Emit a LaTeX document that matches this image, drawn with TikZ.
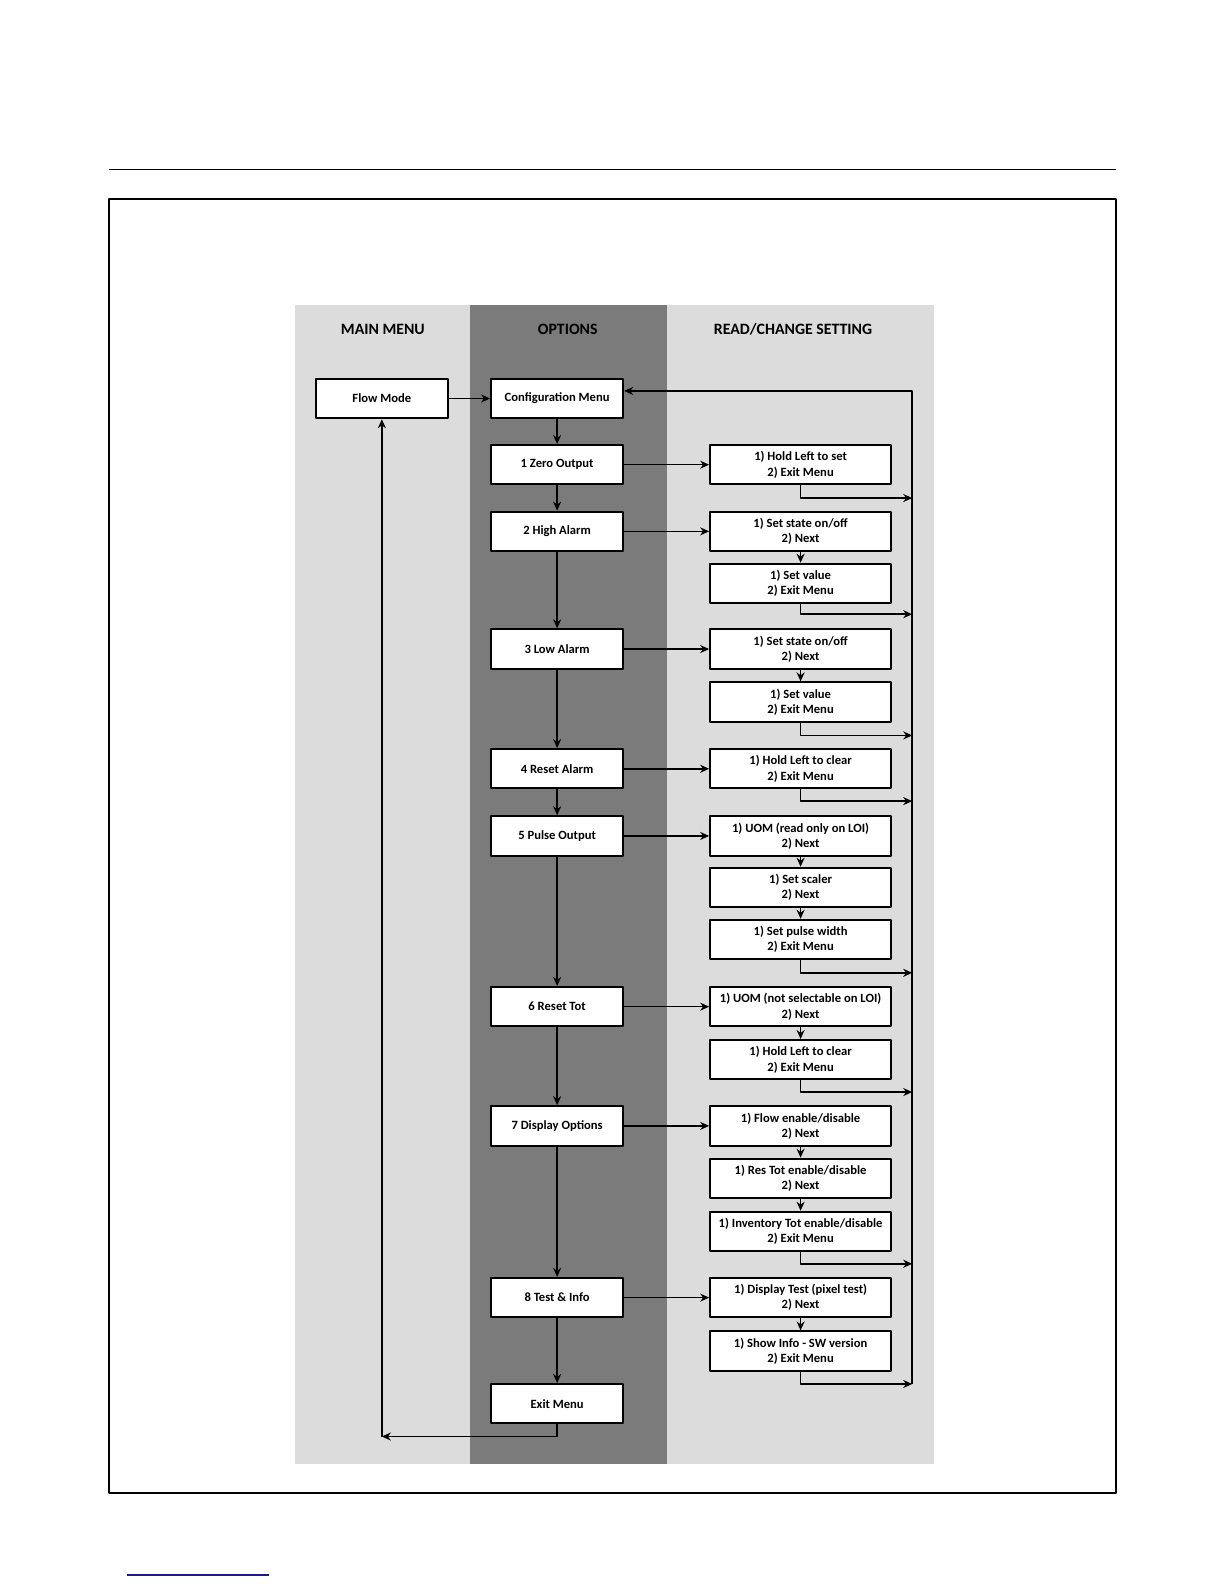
\documentclass[tikz,border=0pt]{standalone}
\usepackage{fontspec}
\setmainfont{Carlito}
\usetikzlibrary{arrows.meta}
\definecolor{panellight}{HTML}{DCDCDC}
\definecolor{paneldark}{HTML}{7B7B7B}
\definecolor{linkblue}{HTML}{1A1A8C}
\tikzset{
  every picture/.style={line join=round, >={Stealth[length=4.5pt,width=4pt]}},
  optbox/.style={draw, line width=1pt, fill=white, minimum width=66pt, minimum height=19.7pt, inner sep=1pt, align=center, font=\fontsize{6.3}{7.6}\selectfont\bfseries},
  setbox/.style={optbox, minimum width=90.4pt},
  colhead/.style={font=\fontsize{7.9}{9}\selectfont\bfseries},
  link/.style={->, line width=0.75pt},
}

\begin{document}
\begin{tikzpicture}[x=0.50495pt,y=-0.50495pt]
\useasboundingbox (0,0) rectangle (1212,1568);
% page rule, frame and footnote line
\draw[line width=0.7pt] (108,168)--(1105,168);
\draw[line width=1.2pt] (108,197) rectangle (1105,1478);
\draw[linkblue,line width=0.6pt] (126,1559)--(266,1559);
% panels
\fill[panellight] (292,302) rectangle (925,1449);
\fill[paneldark] (465,302) rectangle (660,1449);
\node[colhead] (hmain) at (379,326) {MAIN MENU};
\node[colhead] (hopt) at (562,326) {OPTIONS};
\node[colhead] (hset) at (785,326) {READ/CHANGE SETTING};
% main menu
\node[optbox] (flow) at (378,394.5) {Flow Mode};
% options column
\node[optbox] (cfg) at (551.5,394.5) {Configuration Menu};
\node[optbox] (zero) at (551.5,460) {1 Zero Output};
\node[optbox] (high) at (551.5,526) {2 High Alarm};
\node[optbox] (low) at (551.5,642.5) {3 Low Alarm};
\node[optbox] (rsta) at (551.5,761) {4 Reset Alarm};
\node[optbox] (pulse) at (551.5,827.5) {5 Pulse Output};
\node[optbox] (rtot) at (551.5,996.5) {6 Reset Tot};
\node[optbox] (disp) at (551.5,1114.5) {7 Display Options};
\node[optbox] (test) at (551.5,1284.5) {8 Test \& Info};
\node[optbox] (exitm) at (551.5,1389.5) {Exit Menu};
% read/change column
\node[setbox] (zeroA) at (792.5,460) {1) Hold Left to set\\2) Exit Menu};
\node[setbox] (highA) at (792.5,526) {1) Set state on/off\\2) Next};
\node[setbox] (highB) at (792.5,577.5) {1) Set value\\2) Exit Menu};
\node[setbox] (lowA) at (792.5,642.5) {1) Set state on/off\\2) Next};
\node[setbox] (lowB) at (792.5,695) {1) Set value\\2) Exit Menu};
\node[setbox] (rstaA) at (792.5,761) {1) Hold Left to clear\\2) Exit Menu};
\node[setbox] (pulseA) at (792.5,827.5) {1) UOM (read only on LOI)\\2) Next};
\node[setbox] (pulseB) at (792.5,878.5) {1) Set scaler\\2) Next};
\node[setbox] (pulseC) at (792.5,930) {1) Set pulse width\\2) Exit Menu};
\node[setbox] (rtotA) at (792.5,996.5) {1) UOM (not selectable on LOI)\\2) Next};
\node[setbox] (rtotB) at (792.5,1049) {1) Hold Left to clear\\2) Exit Menu};
\node[setbox] (dispA) at (792.5,1114.5) {1) Flow enable/disable\\2) Next};
\node[setbox] (dispB) at (792.5,1166.5) {1) Res Tot enable/disable\\2) Next};
\node[setbox] (dispC) at (792.5,1219) {1) Inventory Tot enable/disable\\2) Exit Menu};
\node[setbox] (testA) at (792.5,1284.5) {1) Display Test (pixel test)\\2) Next};
\node[setbox] (testB) at (792.5,1337.5) {1) Show Info - SW version\\2) Exit Menu};
% return bus
\coordinate (bustop) at (903,387);
\coordinate (b1) at (903,493);
\coordinate (b2) at (903,608);
\coordinate (b3) at (903,728);
\coordinate (b4) at (903,793);
\coordinate (b5) at (903,963);
\coordinate (b6) at (903,1081);
\coordinate (b7) at (903,1251);
\coordinate (b8) at (903,1370);
\coordinate (ret) at (378,1422);
% connectors
\draw[link] (flow)--(cfg);
\draw[link] (cfg)--(zero);
\draw[link] (zero)--(high);
\draw[link] (high)--(low);
\draw[link] (low)--(rsta);
\draw[link] (rsta)--(pulse);
\draw[link] (pulse)--(rtot);
\draw[link] (rtot)--(disp);
\draw[link] (disp)--(test);
\draw[link] (test)--(exitm);
\draw[link] (zero)--(zeroA);
\draw[link] (high)--(highA);
\draw[link] (low)--(lowA);
\draw[link] (rsta)--(rstaA);
\draw[link] (pulse)--(pulseA);
\draw[link] (rtot)--(rtotA);
\draw[link] (disp)--(dispA);
\draw[link] (test)--(testA);
\draw[link] (highA)--(highB);
\draw[link] (lowA)--(lowB);
\draw[link] (pulseA)--(pulseB);
\draw[link] (pulseB)--(pulseC);
\draw[link] (rtotA)--(rtotB);
\draw[link] (dispA)--(dispB);
\draw[link] (dispB)--(dispC);
\draw[link] (testA)--(testB);
\draw[link] (zeroA.south) |- (b1);
\draw[link] (highB.south) |- (b2);
\draw[link] (lowB.south) |- (b3);
\draw[link] (rstaA.south) |- (b4);
\draw[link] (pulseC.south) |- (b5);
\draw[link] (rtotB.south) |- (b6);
\draw[link] (dispC.south) |- (b7);
\draw[link] (testB.south) |- (b8);
\draw[link] (b8)--(bustop)--(cfg.east |- bustop);
\draw[link] (exitm.south) |- (ret);
\draw[link] (ret)--(flow);
\end{tikzpicture}
\end{document}
